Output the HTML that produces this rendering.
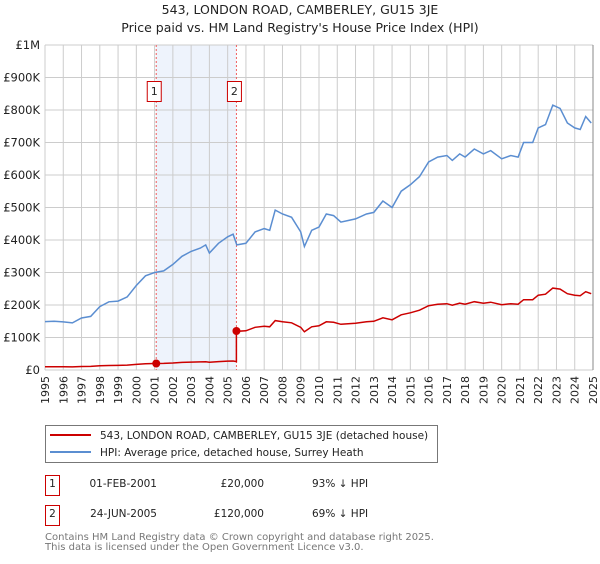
<!DOCTYPE html>
<html><head><meta charset="utf-8"><style>
body{margin:0;background:#fff;font-family:"DejaVu Sans","Liberation Sans",sans-serif;}
svg text{font-family:"DejaVu Sans","Liberation Sans",sans-serif;}
</style></head><body>
<svg id="chart" width="600" height="560" viewBox="0 0 600 560" xmlns="http://www.w3.org/2000/svg">
<text x="300" y="14" text-anchor="middle" font-size="12.5" fill="#222">543, LONDON ROAD, CAMBERLEY, GU15 3JE</text>
<text x="300" y="32" text-anchor="middle" font-size="12.5" fill="#222">Price paid vs. HM Land Registry's House Price Index (HPI)</text>
<g id="plot"></g>
<g>
<rect x="45.5" y="425.5" width="392" height="37" fill="#fff" stroke="#777"/>
<line x1="50" y1="435" x2="91" y2="435" stroke="#cc0000" stroke-width="2"/>
<text x="100" y="439" font-size="10.5" fill="#222">543, LONDON ROAD, CAMBERLEY, GU15 3JE (detached house)</text>
<line x1="50" y1="452" x2="91" y2="452" stroke="#5b8ed1" stroke-width="2"/>
<text x="100" y="456" font-size="10.5" fill="#222">HPI: Average price, detached house, Surrey Heath</text>
</g>
<g font-size="10.5" fill="#222">
<rect x="45.5" y="475.5" width="14" height="20" fill="#fff" stroke="#cc0000"/>
<text x="52.5" y="487" text-anchor="middle">1</text>
<text x="157" y="487" text-anchor="end">01-FEB-2001</text>
<text x="264" y="487" text-anchor="end">£20,000</text>
<text x="312" y="487">93% ↓ HPI</text>
<rect x="45.5" y="505.5" width="14" height="20" fill="#fff" stroke="#cc0000"/>
<text x="52.5" y="517" text-anchor="middle">2</text>
<text x="157" y="517" text-anchor="end">24-JUN-2005</text>
<text x="264" y="517" text-anchor="end">£120,000</text>
<text x="312" y="517">69% ↓ HPI</text>
</g>
<text x="45" y="540" font-size="10" fill="#777">Contains HM Land Registry data © Crown copyright and database right 2025.</text>
<text x="45" y="550" font-size="10" fill="#777">This data is licensed under the Open Government Licence v3.0.</text>
</svg>
<script>
const hpiYears=[1995,1995.5,1996,1996.5,1997,1997.5,1998,1998.5,1999,1999.5,2000,2000.5,2001,2001.5,2002,2002.5,2003,2003.5,2003.8,2004,2004.5,2005,2005.3,2005.5,2006,2006.5,2007,2007.3,2007.6,2008,2008.5,2009,2009.2,2009.6,2010,2010.4,2010.8,2011.2,2011.6,2012,2012.6,2013,2013.5,2014,2014.5,2015,2015.5,2016,2016.5,2017,2017.3,2017.7,2018,2018.5,2019,2019.4,2020,2020.5,2020.9,2021.2,2021.7,2022,2022.4,2022.8,2023.2,2023.6,2024,2024.3,2024.6,2024.9];
const hpiValues=[149,150,148,145,160,165,195,210,212,225,260,290,300,305,325,350,365,375,385,360,390,410,418,385,390,425,435,430,492,480,470,425,380,430,440,480,475,455,460,465,480,485,520,500,550,570,595,640,655,660,645,665,655,680,665,675,650,660,655,700,700,745,755,815,805,760,745,740,780,760];
const saleDates=[2001.09,2005.48];
const salePrices=[20,120];
const yTicks=[0,100,200,300,400,500,600,700,800,900,1000];
const yTickLabels=["£0","£100K","£200K","£300K","£400K","£500K","£600K","£700K","£800K","£900K","£1M"];
const xYears=[1995,1996,1997,1998,1999,2000,2001,2002,2003,2004,2005,2006,2007,2008,2009,2010,2011,2012,2013,2014,2015,2016,2017,2018,2019,2020,2021,2022,2023,2024,2025];

const X0=45,X1=593,Y0=370,Y1=45;
const xs=y=>X0+(y-1995)/30*(X1-X0);
const ys=v=>Y0-v/1000*(Y0-Y1);
const NS="http://www.w3.org/2000/svg";
const plot=document.getElementById('plot');
function mk(tag,attrs,parent){const e=document.createElementNS(NS,tag);for(const k in attrs)e.setAttribute(k,attrs[k]);(parent||plot).appendChild(e);return e;}
function hpiAt(t){for(let i=0;i<hpiYears.length-1;i++){if(t<=hpiYears[i+1]){const f=(t-hpiYears[i])/(hpiYears[i+1]-hpiYears[i]);return hpiValues[i]+f*(hpiValues[i+1]-hpiValues[i]);}}return hpiValues[hpiValues.length-1];}

// shaded band
const band=mk('rect',{x:xs(saleDates[0]),y:Y1,width:xs(saleDates[1])-xs(saleDates[0]),height:Y0-Y1,fill:'#eef3fc'});


// grid
xYears.forEach(yr=>{
  const l=mk('line',{x1:xs(yr),x2:xs(yr),y1:Y1,y2:Y0,stroke:'#cccccc','stroke-width':1});
  
  
  const t=mk('text',{x:0,y:0,transform:`translate(${xs(yr)+4},${Y0+6}) rotate(-90)`,'text-anchor':'end','font-size':11,fill:'#222'});
  t.textContent=yr;
  
  
});
yTicks.forEach((v,i)=>{
  const l=mk('line',{x1:X0,x2:X1,y1:ys(v),y2:ys(v),stroke:'#cccccc','stroke-width':1});
  
  
  const t=mk('text',{x:X0-5,y:ys(v)+4,'text-anchor':'end','font-size':11.5,fill:'#222'});
  t.textContent=yTickLabels[i];
  
  
});
const ra=mk('line',{x1:X1,x2:X1,y1:Y1,y2:Y0,stroke:'#888','stroke-width':1});


// sale vlines and markers
saleDates.forEach((d,i)=>{
  const l=mk('line',{x1:xs(d),x2:xs(d),y1:Y1,y2:Y0,stroke:'#f06060','stroke-width':1,'stroke-dasharray':'2,2'});
  
  
  const r=mk('rect',{x:xs(d)-9,y:81.5,width:14,height:20,fill:'#fff',stroke:'#cc0000'});
  
  
  const t=mk('text',{x:xs(d)-2,y:95,'text-anchor':'middle','font-size':11,fill:'#222'});
  t.textContent=String(i+1);
  
  
});
// HPI line
const hp=hpiYears.map((y,i)=>xs(y).toFixed(1)+','+ys(hpiValues[i]).toFixed(1)).join(' ');
const hl=mk('polyline',{points:hp,fill:'none',stroke:'#5b8ed1','stroke-width':1.5});


// price line (indexed to HPI from each sale)
const pts=[];
hpiYears.forEach((y,i)=>{
  if(y<saleDates[1]){
    if(y>saleDates[0]&&pts.length&&hpiYears[i-1]<saleDates[0])pts.push([saleDates[0],salePrices[0]]);
    pts.push([y,salePrices[0]*hpiValues[i]/hpiAt(saleDates[0])]);
  }
});
pts.push([saleDates[1],salePrices[0]*hpiAt(saleDates[1])/hpiAt(saleDates[0])]);
pts.push([saleDates[1],salePrices[1]]);
hpiYears.forEach((y,i)=>{if(y>saleDates[1])pts.push([y,salePrices[1]*hpiValues[i]/hpiAt(saleDates[1])]);});
const pl=mk('polyline',{points:pts.map(p=>xs(p[0]).toFixed(1)+','+ys(p[1]).toFixed(1)).join(' '),fill:'none',stroke:'#cc0000','stroke-width':1.5});


saleDates.forEach((d,i)=>{
  const c=mk('circle',{cx:xs(d),cy:ys(salePrices[i]),r:4,fill:'#cc0000'});
  
  
});
</script>
</body></html>
